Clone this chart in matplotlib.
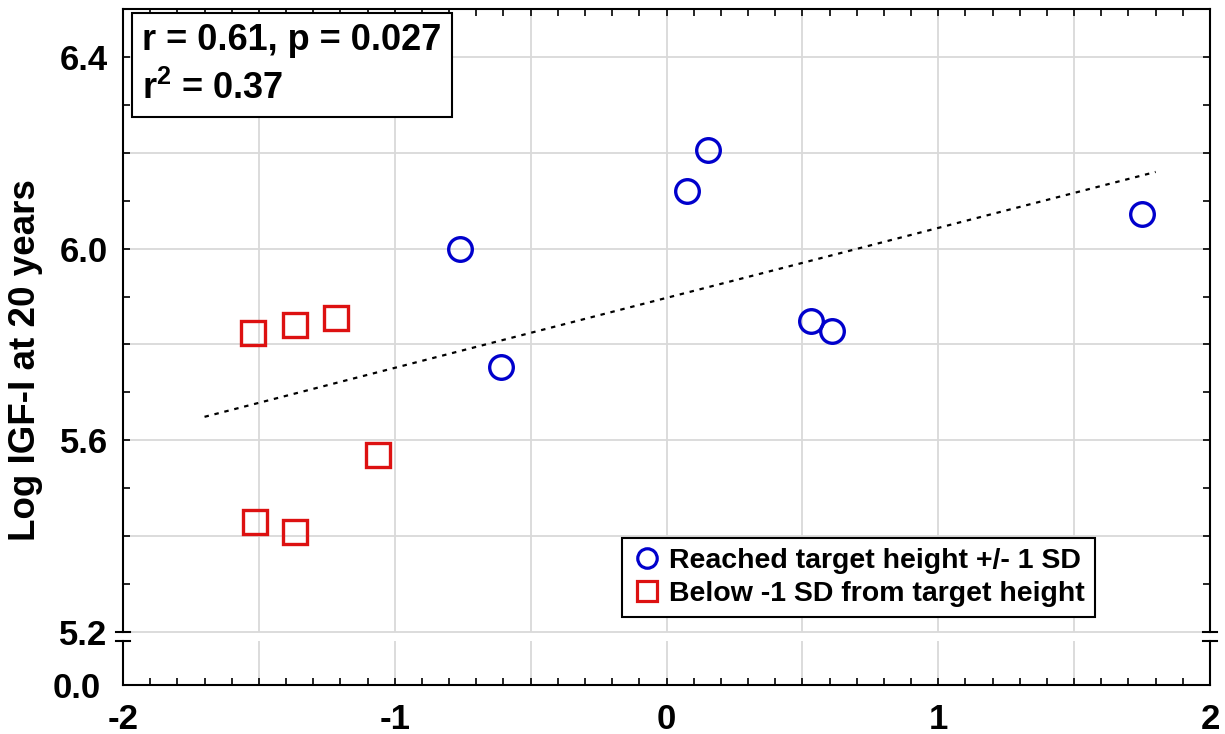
import matplotlib
matplotlib.use("Agg")
import matplotlib.pyplot as plt
import numpy as np
from matplotlib.lines import Line2D
from matplotlib.ticker import MultipleLocator, FixedLocator

# Data
reached_x = [-0.759, -0.609, 0.076, 0.151, 0.530, 0.610, 1.749]
reached_y = [5.999, 5.753, 6.120, 6.206, 5.850, 5.829, 6.073]
below_x = [-1.520, -1.366, -1.215, -1.061, -1.514, -1.366]
below_y = [5.823, 5.841, 5.855, 5.569, 5.430, 5.408]
fit_x = [-1.70, 1.80]
fit_y = [5.649, 6.160]

reached_label = "Reached target height +/- 1 SD"
below_label = "Below -1 SD from target height"
stats_text = "r = 0.61, p = 0.027\nr$^{2}$ = 0.37"
ylabel = "Log IGF-I at 20 years"

xticks = [-2, -1, 0, 1, 2]
yticks_top = [5.2, 5.6, 6.0, 6.4]

blue = "#0000cc"
red = "#dd1111"
grid_col = "#d9d9d9"

plt.rcParams['font.family'] = ['Liberation Sans', 'DejaVu Sans']
plt.rcParams['font.weight'] = 'bold'
plt.rcParams['mathtext.fontset'] = 'custom'
plt.rcParams['mathtext.rm'] = 'Liberation Sans:bold'
plt.rcParams['mathtext.bf'] = 'Liberation Sans:bold'
plt.rcParams['mathtext.default'] = 'rm'

W, H = 1225, 734
fig = plt.figure(figsize=(W / 100, H / 100), dpi=100)

left = 123 / W
width = (1210 - 123) / W
ax = fig.add_axes([left, 1 - 632 / H, width, (632 - 9) / H])
axb = fig.add_axes([left, 1 - 685 / H, width, (685 - 641) / H])

# grid
for a in (ax, axb):
    for gx in np.arange(-1.5, 2.0, 0.5):
        a.axvline(gx, color=grid_col, lw=1.3, zorder=0)
for gy in np.arange(5.4, 6.5, 0.2):
    ax.axhline(gy, color=grid_col, lw=1.3, zorder=0)
ax.axhline(5.2, color=grid_col, lw=1.3, zorder=0, clip_on=False)

# data
ax.plot(fit_x, fit_y, color='black', lw=1.6, ls=(0, (2, 2.6)), zorder=2)
ax.plot(reached_x, reached_y, 'o', ms=17, mfc='none', mec=blue, mew=2.4, zorder=3)
ax.plot(below_x, below_y, 's', ms=17, mfc='none', mec=red, mew=2.4, zorder=3)

ax.set_xlim(-2, 2)
ax.set_ylim(5.2, 6.5)
axb.set_xlim(-2, 2)
axb.set_ylim(0, 1)

# spines
for a in (ax, axb):
    for s in a.spines.values():
        s.set_linewidth(1.5)
ax.spines['bottom'].set_visible(False)
axb.spines['top'].set_visible(False)

# ticks
ax.xaxis.set_major_locator(MultipleLocator(0.1))
ax.yaxis.set_major_locator(FixedLocator(yticks_top))
ax.yaxis.set_minor_locator(MultipleLocator(0.1))
ax.tick_params(which='both', direction='in', length=5, width=1.2,
               top=True, bottom=False, left=True, right=True,
               labelbottom=False, labelsize=25, pad=11)
ax.set_yticklabels([f"{v:.1f}" for v in yticks_top], fontweight='bold')

axb.xaxis.set_major_locator(FixedLocator(xticks))
axb.xaxis.set_minor_locator(MultipleLocator(0.1))
axb.set_xticklabels([str(v) for v in xticks], fontweight='bold')
axb.set_yticks([0])
axb.set_yticklabels(["0.0"], fontweight='bold')
axb.tick_params(axis='x', which='both', direction='in', length=5, width=1.2,
                top=False, labelsize=25, pad=13)
axb.tick_params(axis='y', which='both', length=0, labelsize=25, pad=16)

# axis break marks
d = 7 / 1087
for xs in ((-d, d), (1 - d, 1 + d)):
    ax.plot(xs, [0, 0], transform=ax.transAxes, color='black', lw=1.5, clip_on=False)
    axb.plot(xs, [1, 1], transform=axb.transAxes, color='black', lw=1.5, clip_on=False)

fig.text(26 / W, 1 - 360 / H, ylabel, rotation=90, ha='center', va='center',
         fontsize=26.5, fontweight='bold')

# stats box
ax.text(0.0175, 0.978, stats_text, transform=ax.transAxes, ha='left', va='top',
        fontsize=26, fontweight='bold', linespacing=1.45,
        bbox=dict(boxstyle='square,pad=0.28', fc='white', ec='black', lw=1.5),
        zorder=5)

handles = [
    Line2D([], [], marker='o', ls='none', ms=14, mfc='none', mec=blue, mew=2.3),
    Line2D([], [], marker='s', ls='none', ms=14, mfc='none', mec=red, mew=2.3),
]
leg = ax.legend(handles, [reached_label, below_label], loc='lower right',
                bbox_to_anchor=(0.8942, 0.0241), borderaxespad=0,
                prop={'size': 20.5, 'weight': 'bold'}, fancybox=False,
                framealpha=1, edgecolor='black', labelspacing=0.25,
                handlelength=1.0, handletextpad=0.3, borderpad=0.35)
leg.get_frame().set_linewidth(1.5)
leg.set_zorder(5)

fig.savefig("out.png", dpi=100)
